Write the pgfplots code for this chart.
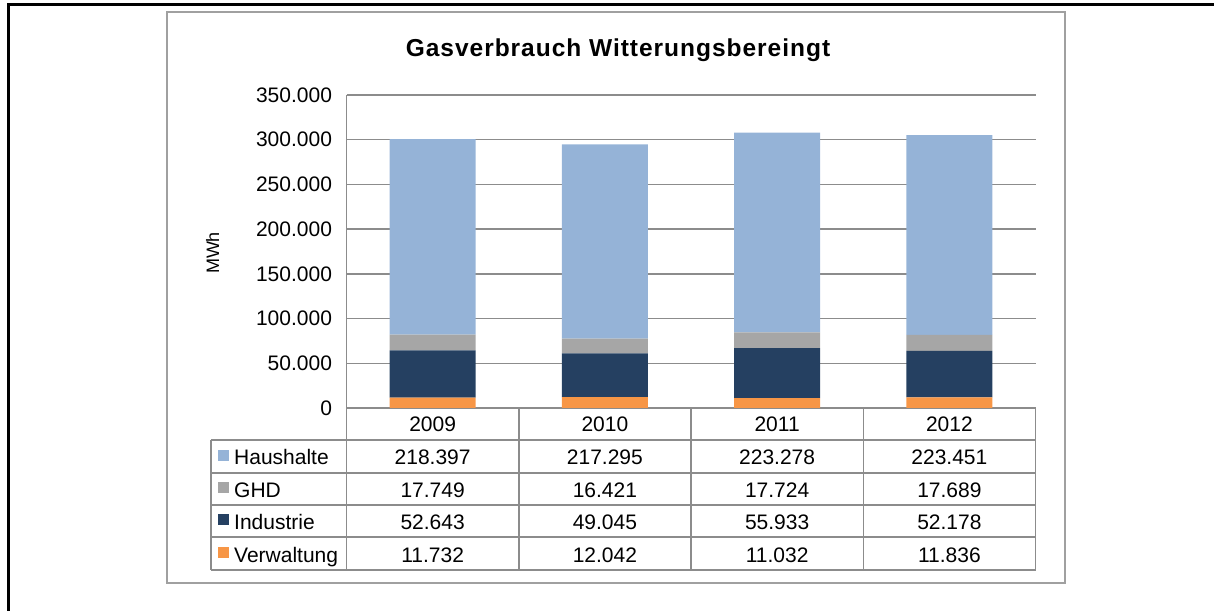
\documentclass[border=0pt]{standalone}
\usepackage{fontspec}
\setmainfont{Liberation Sans}
\usepackage{pgfplots}
\usepackage{pgfplotstable}
\pgfplotsset{compat=1.18}
\definecolor{cH}{HTML}{95B3D7}
\definecolor{cG}{HTML}{A6A6A6}
\definecolor{cI}{HTML}{254061}
\definecolor{cV}{HTML}{F79646}
\definecolor{gridg}{HTML}{8C8C8C}
\definecolor{frameg}{HTML}{A0A0A0}

\pgfplotstableread{
x year V I G H
0 2009 11732 52643 17749 218397
1 2010 12042 49045 16421 217295
2 2011 11032 55933 17724 223278
3 2012 11836 52178 17689 223451
}\gasdata

\newcommand\fs{\fontsize{21pt}{25pt}\selectfont}
\newfontfamily\titlefont[LetterSpace=4]{Liberation Sans}

\begin{document}
\begin{tikzpicture}
\begin{scope}[x=1pt,y=1pt]
\useasboundingbox (0,0) rectangle (1214,610);
\draw[line width=3pt] (8,-5) -- (8,605) -- (1220,605);
\draw[frameg, line width=1.5pt] (167,598) rectangle (1065,27);
\node[font=\titlefont\fontsize{24.5pt}{28pt}\selectfont\bfseries, anchor=base] at (618,553) {Gasverbrauch Witterungsbereingt};
\node[font=\fontsize{18pt}{22pt}\selectfont, rotate=90] at (212.5,357) {MWh};
\end{scope}

\begin{axis}[at={(346.5pt,202pt)}, anchor=south west, scale only axis,
  width=689pt, height=313pt,
  xmin=-0.5, xmax=3.5, ymin=0, ymax=350000,
  ybar stacked, bar width=86.1pt,
  axis x line=none, axis y line*=left,
  y axis line style={draw=gridg, line width=1.5pt, -},
  ymajorgrids, grid style={draw=gridg, line width=1.5pt},
  ytick={0,50000,100000,150000,200000,250000,300000,350000},
  major tick length=0pt, scaled y ticks=false,
  yticklabel style={font=\fs, xshift=-11pt},
  /pgf/number format/.cd, fixed, 1000 sep={.}, assume math mode=true]
\addplot[fill=cV, draw=none] table[x=x, y=V] {\gasdata};
\addplot[fill=cI, draw=none] table[x=x, y=I] {\gasdata};
\addplot[fill=cG, draw=none] table[x=x, y=G] {\gasdata};
\addplot[fill=cH, draw=none] table[x=x, y=H] {\gasdata};
\end{axis}

\begin{scope}[x=1pt,y=1pt]
% table grid
\foreach \xx in {346.5,518.75,691,863.25,1035.5} {
  \draw[gridg, line width=1.5pt] (\xx,202) -- (\xx,40);
}
\draw[gridg, line width=1.5pt] (211,170) -- (211,40);
\foreach \yy in {170,137,105,73,40} {
  \draw[gridg, line width=1.5pt] (211,\yy) -- (1035.5,\yy);
}
% legend keys
\fill[cH] (218,149) rectangle (229,160);
\fill[cG] (218,116.5) rectangle (229,127.5);
\fill[cI] (218,84.5) rectangle (229,95.5);
\fill[cV] (218,52) rectangle (229,63);
\node[font=\fs, anchor=base west, inner sep=0] at (234,145) {Haushalte};
\node[font=\fs, anchor=base west, inner sep=0] at (234,112.5) {GHD};
\node[font=\fs, anchor=base west, inner sep=0] at (234,80.5) {Industrie};
\node[font=\fs, anchor=base west, inner sep=0] at (234,48) {Verwaltung};
% values
\foreach \c in {0,1,2,3} {
  \pgfplotstablegetelem{\c}{year}\of\gasdata
  \node[font=\fs, anchor=base, inner sep=0] at ({346.5+172.25*(\c+0.5)},178.3) {\pgfplotsretval};
  \foreach \s/\yb in {H/145,G/112.5,I/80.5,V/48} {
    \pgfplotstablegetelem{\c}{\s}\of\gasdata
    \node[font=\fs, anchor=base, inner sep=0] at ({346.5+172.25*(\c+0.5)},\yb)
      {\pgfmathprintnumber[fixed,1000 sep={.},assume math mode=true]{\pgfplotsretval}};
  }
}
\end{scope}
\end{tikzpicture}
\end{document}
